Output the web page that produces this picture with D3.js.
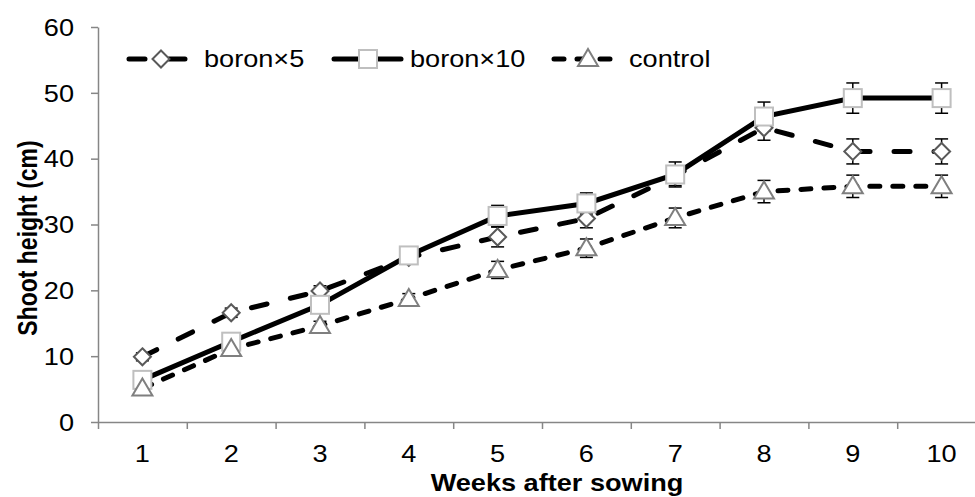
<!DOCTYPE html>
<html>
<head>
<meta charset="utf-8">
<script src="https://cdn.jsdelivr.net/npm/d3@7"></script>
<style>
  body { margin: 0; background: #fff; }
  text { font-family: "Liberation Sans", Arial, sans-serif; fill: #000; }
</style>
</head>
<body>
<div id="graph"></div>
<script>
"use strict";

var width = 975,
    height = 497;

// data
const weeks = [1, 2, 3, 4, 5, 6, 7, 8, 9, 10];
const boron5 = [9.9, 16.6, 19.9, 25.0, 28.1, 30.9, 37.4, 44.7, 41.1, 41.1];
const boron5Err = [0.6, 0.7, 0.8, 1.0, 1.5, 1.4, 1.5, 1.9, 1.9, 1.9];
const boron10 = [6.4, 12.2, 17.8, 25.3, 31.3, 33.2, 37.6, 46.4, 49.2, 49.2];
const boron10Err = [0.8, 0.8, 1.0, 1.1, 1.6, 1.6, 1.9, 2.2, 2.3, 2.3];
const control = [5.1, 11.1, 14.6, 18.7, 23.1, 26.4, 31.0, 35.0, 35.8, 35.8];
const controlErr = [0.5, 0.6, 0.7, 0.8, 1.3, 1.4, 1.5, 1.7, 1.7, 1.7];
const seriesNames = ["boron\u00d75", "boron\u00d710", "control"];
const yTicks = [0, 10, 20, 30, 40, 50, 60];

const stretch = 1.18; // text in the picture is a bit wide

let svg = d3.select("#graph")
    .append("svg")
    .attr("width", width)
    .attr("height", height)
    .style("display", "block");

svg.append("rect").attr("width", width).attr("height", height).attr("fill", "#fff");

let x = d3.scaleBand()
    .domain(weeks)
    .range([98, 986])
    .padding(0);

// edges between categories, for the tick marks
let xEdge = d3.scaleLinear()
    .domain([0, weeks.length])
    .range(x.range());

let y = d3.scaleLinear()
    .domain([0, 60])
    .range([422, 27]);

let series = [
    { name: seriesNames[0], values: boron5, err: boron5Err, dash: "16,24", marker: "diamond", stroke: "#595959" },
    { name: seriesNames[1], values: boron10, err: boron10Err, dash: null, marker: "square", stroke: "#bfbfbf" },
    { name: seriesNames[2], values: control, err: controlErr, dash: "10,13", marker: "triangle", stroke: "#7f7f7f" }
];

// axes
let axisColor = "#868686";

let yAxis = svg.append("g")
    .attr("transform", "translate(" + x.range()[0] + ",0)")
    .call(d3.axisLeft(y).tickValues(yTicks).tickSize(7).tickSizeOuter(0));
yAxis.select(".domain").attr("stroke", axisColor).attr("stroke-width", 1.5);
yAxis.selectAll(".tick line").attr("stroke", axisColor).attr("stroke-width", 1.5);
yAxis.selectAll(".tick text")
    .attr("x", -24 / stretch)
    .attr("dy", "0.36em")
    .attr("transform", "scale(" + stretch + ",1)")
    .style("font-size", "23px");

let xTicks = svg.append("g")
    .attr("transform", "translate(0," + y(0) + ")")
    .call(d3.axisBottom(xEdge).tickValues(d3.range(0, weeks.length + 1)).tickFormat("").tickSize(7).tickSizeOuter(0));
xTicks.select(".domain").attr("stroke", axisColor).attr("stroke-width", 1.5);
xTicks.selectAll(".tick line").attr("stroke", axisColor).attr("stroke-width", 1.5);

let xLabels = svg.append("g")
    .attr("transform", "translate(0," + y(0) + ")")
    .call(d3.axisBottom(x).tickSize(0));
xLabels.select(".domain").remove();
xLabels.selectAll(".tick text")
    .attr("y", 40)
    .attr("dy", 0)
    .attr("transform", "scale(" + stretch + ",1)")
    .style("font-size", "23px");

svg.selectAll(".tick text").style("font-family", "'Liberation Sans', Arial, sans-serif").attr("fill", "#000");

// axis titles
svg.append("text")
    .attr("transform", "translate(557,491) scale(" + stretch + ",1)")
    .attr("text-anchor", "middle")
    .style("font-size", "23px")
    .style("font-weight", "bold")
    .text("Weeks after sowing");

svg.append("text")
    .attr("transform", "translate(37,238) scale(" + stretch + ",1) rotate(-90)")
    .attr("text-anchor", "middle")
    .style("font-size", "23px")
    .style("font-weight", "bold")
    .text("Shoot height (cm)");

// markers
function drawMarker(g, type, stroke) {
    if (type === "diamond") {
        g.append("path").attr("d", "M0,-8.5L8.5,0L0,8.5L-8.5,0Z");
    } else if (type === "square") {
        g.append("rect").attr("x", -9).attr("y", -9).attr("width", 18).attr("height", 18);
    } else {
        g.append("path").attr("d", "M0,-10L10,7L-10,7Z");
    }
    g.selectAll("path,rect")
        .attr("fill", "#fff")
        .attr("stroke", stroke)
        .attr("stroke-width", 2);
}

let line = d3.line()
    .x((d, i) => x(weeks[i]) + x.bandwidth() / 2)
    .y(d => y(d));

let plot = svg.append("g");

series.forEach(function (s) {
    plot.append("path")
        .datum(s.values)
        .attr("fill", "none")
        .attr("stroke", "#000")
        .attr("stroke-width", 5)
        .attr("stroke-linecap", s.dash ? "round" : "butt")
        .attr("stroke-dasharray", s.dash)
        .attr("d", line);
});

series.forEach(function (s) {
    let eb = plot.append("g").selectAll("g")
        .data(s.values)
        .enter()
        .append("g")
        .attr("transform", (d, i) => "translate(" + (x(weeks[i]) + x.bandwidth() / 2) + ",0)");
    eb.append("line")
        .attr("y1", (d, i) => y(d - s.err[i]))
        .attr("y2", (d, i) => y(d + s.err[i]));
    eb.append("line")
        .attr("x1", -6.5).attr("x2", 6.5)
        .attr("y1", (d, i) => y(d + s.err[i]))
        .attr("y2", (d, i) => y(d + s.err[i]));
    eb.append("line")
        .attr("x1", -6.5).attr("x2", 6.5)
        .attr("y1", (d, i) => y(d - s.err[i]))
        .attr("y2", (d, i) => y(d - s.err[i]));
    eb.selectAll("line").attr("stroke", "#000").attr("stroke-width", 1.5);
});

series.forEach(function (s) {
    plot.append("g").selectAll("g")
        .data(s.values)
        .enter()
        .append("g")
        .attr("transform", (d, i) => "translate(" + (x(weeks[i]) + x.bandwidth() / 2) + "," + y(d) + ")")
        .each(function () {
            drawMarker(d3.select(this), s.marker, s.stroke);
        });
});

// legend
let legendItems = [
    { x1: 127, x2: 190, mx: 161, tx: 204 },
    { x1: 332, x2: 403, mx: 368, tx: 410 },
    { x1: 552, x2: 615, mx: 588, tx: 629 }
];
let legend = svg.append("g").attr("transform", "translate(0,59)");
series.forEach(function (s, i) {
    let it = legendItems[i];
    let g = legend.append("g");
    g.append("line")
        .attr("x1", it.x1 + 2).attr("x2", it.x2 - 2)
        .attr("stroke", "#000")
        .attr("stroke-width", 5)
        .attr("stroke-linecap", "round")
        .attr("stroke-dasharray", s.dash);
    drawMarker(g.append("g").attr("transform", "translate(" + it.mx + ",0)"), s.marker, s.stroke);
    g.append("text")
        .attr("transform", "translate(" + it.tx + ",8) scale(" + stretch + ",1)")
        .style("font-size", "23px")
        .text(s.name);
});
</script>
</body>
</html>
